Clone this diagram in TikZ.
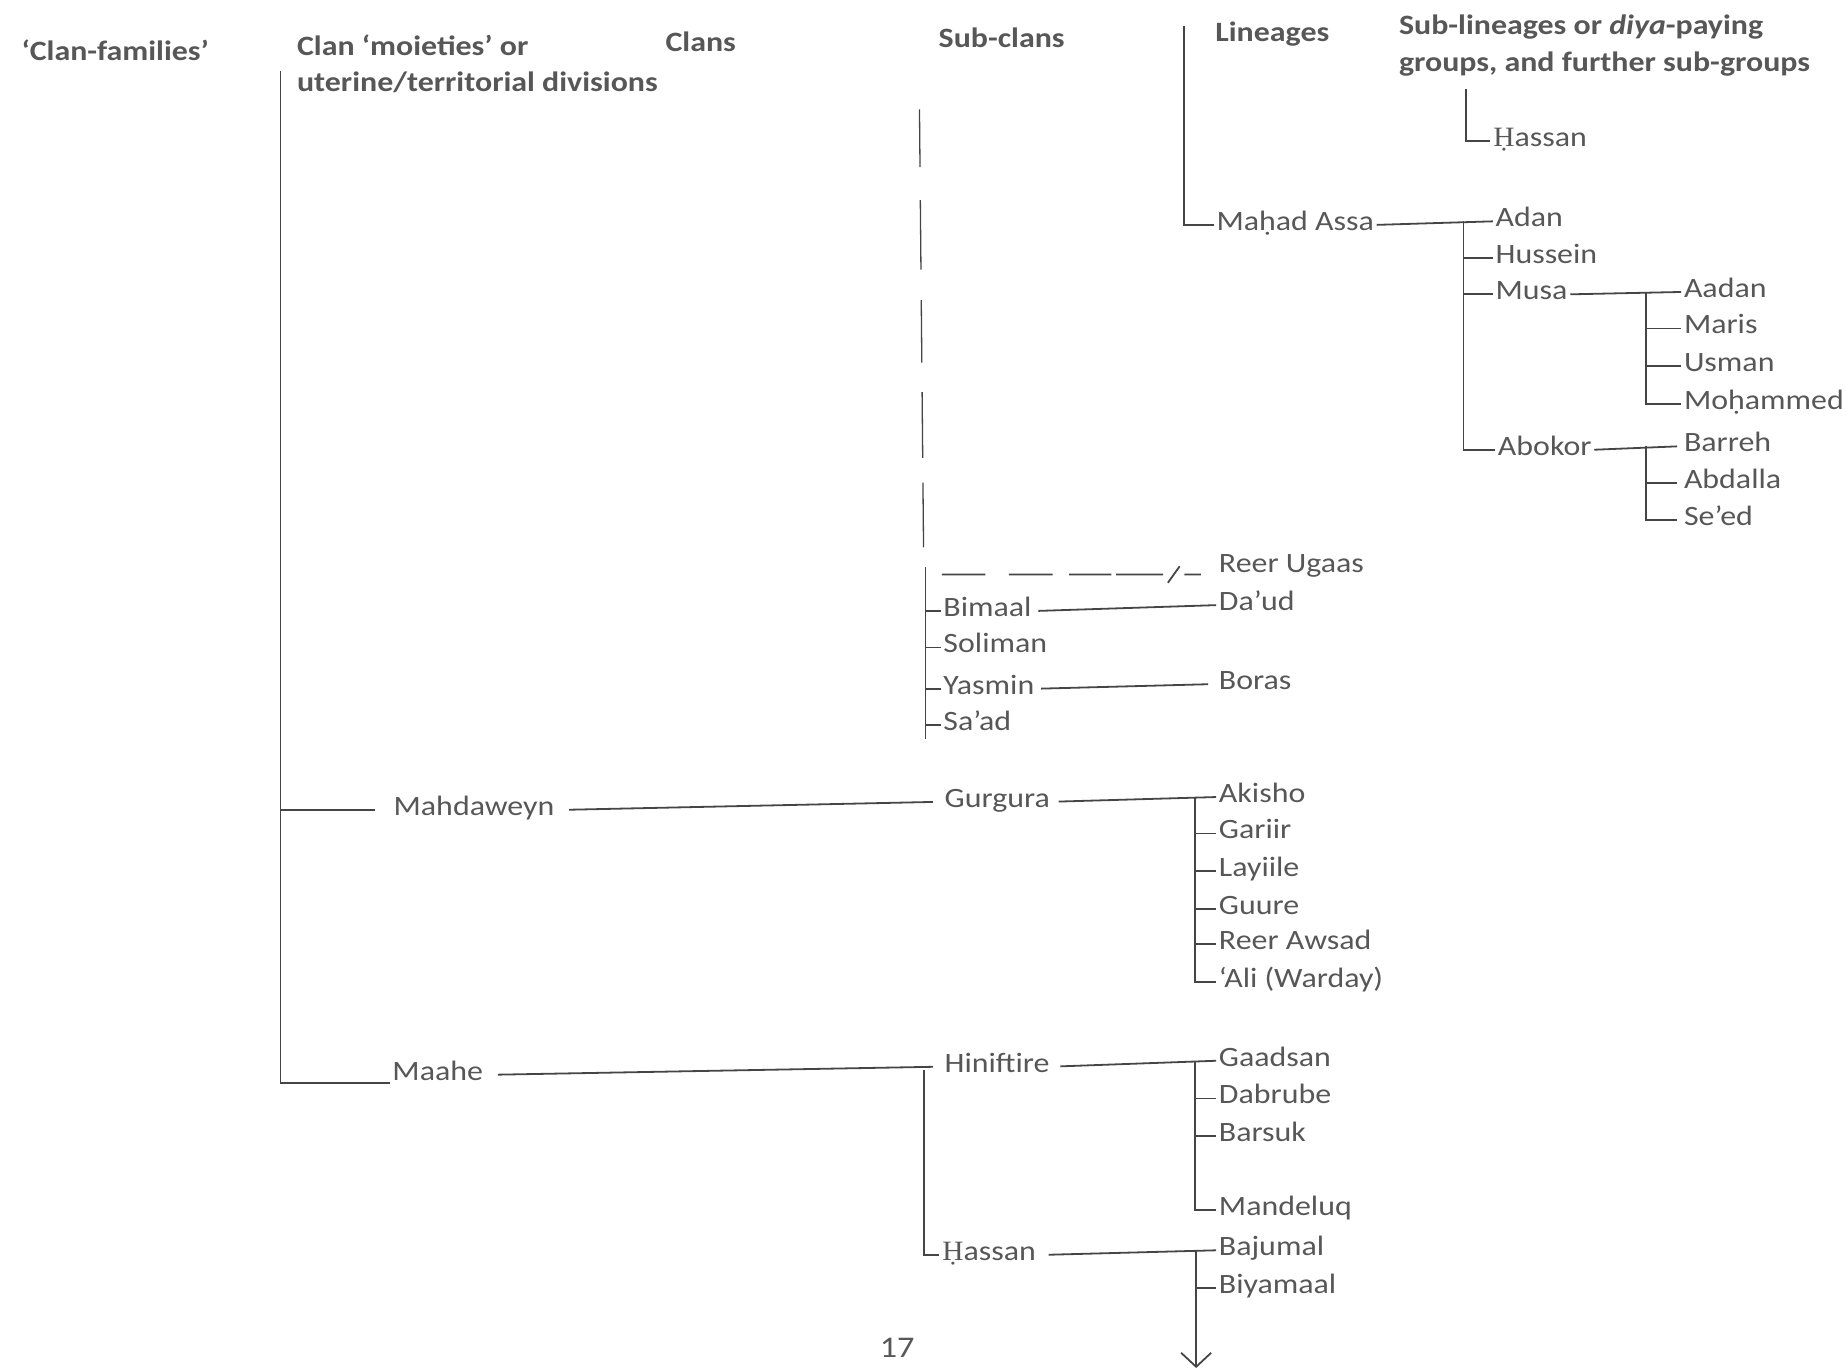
\documentclass[tikz,border=0pt]{standalone}
\usepackage{fontspec}
\setmainfont{Carlito}[FakeStretch=1.14]
\newfontfamily\serifH{Liberation Serif}[FakeStretch=1.05]
\usetikzlibrary{arrows.meta}
\definecolor{txt}{HTML}{575757}
\definecolor{lncol}{HTML}{454545}
\begin{document}
\begin{tikzpicture}[x=0.5887pt,y=-0.5887pt,
  lbl/.style={anchor=west, inner xsep=1.2pt, inner ysep=0pt, text height=0.62em, text depth=0.08em, text=txt, font=\fontsize{14}{17}\selectfont},
  hdr/.style={anchor=base west, inner sep=0pt, text=txt, font=\fontsize{14}{17}\selectfont\bfseries},
  conn/.style={draw=lncol, line width=0.9pt},
  thinline/.style={draw=lncol, line width=0.65pt}]
\useasboundingbox (0,0) rectangle (1568,1164.5);
\clip (0,0) rectangle (1568,1164.5);

% headers
\node[hdr] (hcf) at (18,51) {‘Clan-families’};
\node[hdr] (hmo1) at (252,47) {Clan ‘moieties’ or};
\node[hdr] (hmo2) at (252,78) {uterine/territorial divisions};
\node[hdr] (hcl) at (565,44) {Clans};
\node[hdr] (hsc) at (797,40) {Sub-clans};
\node[hdr] (hli) at (1032,35) {Lineages};
\node[hdr] (hsl1) at (1188,29) {Sub-lineages or \textit{diya}-paying};
\node[hdr] (hsl2) at (1188,61) {groups, and further sub-groups};

% top Hassan
\node[lbl] (hasA) at (1266,120) {{\serifH Ḥ}assan};
\coordinate (tA) at (1245,76);
\draw[conn] (tA) |- (hasA.west);

% lineages trunk
\node[lbl] (mahad) at (1031,191) {Maḥad Assa};
\coordinate (tL) at (1006,22);
\draw[conn] (tL) |- (mahad.west);

% Adan group
\node[lbl] (adan) at (1268,188) {Adan};
\node[lbl] (huss) at (1268,219) {Hussein};
\node[lbl] (musa) at (1268,250) {Musa};
\node[lbl] (abok) at (1270,382) {Abokor};
\draw[conn] (mahad.east) -- (adan.west);
\coordinate (t1) at (1243,188);
\draw[conn] (t1) |- (abok.west);
\draw[conn] (t1 |- huss.west) -- (huss.west);
\draw[conn] (t1 |- musa.west) -- (musa.west);

% Musa group
\node[lbl] (aadan) at (1428,248) {Aadan};
\node[lbl] (maris) at (1428,279) {Maris};
\node[lbl] (usman) at (1428,311) {Usman};
\node[lbl] (moham) at (1428,343) {Moḥammed};
\draw[conn] (musa.east) -- (aadan.west);
\coordinate (t2) at (1398,248);
\draw[conn] (t2) |- (moham.west);
\draw[conn] (t2 |- maris.west) -- (maris.west);
\draw[conn] (t2 |- usman.west) -- (usman.west);

% Abokor group
\node[lbl] (barreh) at (1428,379) {Barreh};
\node[lbl] (abdal) at (1428,410) {Abdalla};
\node[lbl] (seed) at (1428,442) {Se’ed};
\draw[conn, shorten >=2pt] (abok.east) -- (barreh.west);
\coordinate (t3) at (1398,379);
\draw[conn, shorten >=2pt] (t3) |- (seed.west);
\draw[conn, shorten >=2pt] (t3 |- abdal.west) -- (abdal.west);

% sub-clans broken line
\foreach \a/\b in {93/142,170/229,255/308,333/389,410/465}
  \draw[thinline] ({781+(\a-93)*0.0093},\a) -- ({781+(\b-93)*0.0093},\b);

% Reer Ugaas
\node[lbl] (reer) at (1033,482) {Reer Ugaas};
\draw[conn] (800,488) -- (837,488) (857,488) -- (894,488) (908,488) -- (944,488)
  (948,488) -- (988,488) (992,495) -- (1002,481) (1006,488) -- (1020,488);

% Bimaal group
\node[lbl] (bim) at (799,519) {Bimaal};
\node[lbl] (daud) at (1033,514) {Da’ud};
\node[lbl] (sol) at (799,550) {Soliman};
\node[lbl] (yas) at (799,585) {Yasmin};
\node[lbl] (boras) at (1033,581) {Boras};
\node[lbl] (saad) at (799,616) {Sa’ad};
\coordinate (t4top) at (786,482);
\coordinate (t4bot) at (786,628);
\draw[thinline] (t4top) -- (t4bot);
\foreach \n in {bim,sol,yas,saad}
  \draw[conn] (t4top |- \n.west) -- (\n.west);
\draw[conn, shorten <=2pt] (bim.east) -- (daud.west);
\draw[conn, shorten <=2pt, shorten >=4pt] (yas.east) -- (boras.west);

% left trunk
\coordinate (top) at (238,60);
\coordinate (bot) at (238,920);
\draw[thinline] (top) -- (bot);

% Mahdaweyn
\node[lbl] (mahd) at (332,688) {Mahdaweyn};
\node[lbl] (gurg) at (800,681) {Gurgura};
\draw[conn, shorten >=8pt] (top |- mahd.west) -- (mahd.west);
\draw[conn, shorten <=6pt, shorten >=4.5pt] (mahd.east) -- (gurg.west);
\node[lbl] (akisho) at (1033,677) {Akisho};
\node[lbl] (gariir) at (1033,708) {Gariir};
\node[lbl] (layiile) at (1033,740) {Layiile};
\node[lbl] (guure) at (1033,772) {Guure};
\node[lbl] (rawsad) at (1033,802) {Reer Awsad};
\node[lbl] (ali) at (1033,834) {‘Ali (Warday)};
\draw[conn, shorten <=3pt] (gurg.east) -- (akisho.west);
\coordinate (t5) at (1015,677);
\draw[conn] (t5) |- (ali.west);
\foreach \n in {gariir,layiile,guure,rawsad}
  \draw[conn] (t5 |- \n.west) -- (\n.west);

% Maahe
\node[lbl] (maahe) at (331,913) {Maahe};
\draw[conn] (bot) -- (bot -| maahe.west);
\node[lbl] (hinif) at (800,906) {Hiniftire};
\draw[conn, shorten <=6pt, shorten >=4.5pt] (maahe.east) -- (hinif.west);
\node[lbl] (hasB) at (798,1066) {{\serifH Ḥ}assan};
\coordinate (t6) at (785,909);
\draw[conn] (t6) |- (hasB.west);
\node[lbl] (gaad) at (1033,901) {Gaadsan};
\node[lbl] (dabr) at (1033,933) {Dabrube};
\node[lbl] (bars) at (1033,965) {Barsuk};
\node[lbl] (mand) at (1033,1028) {Mandeluq};
\draw[conn, shorten <=4pt] (hinif.east) -- (gaad.west);
\coordinate (t7) at (1015,902);
\draw[conn] (t7) |- (mand.west);
\foreach \n in {dabr,bars}
  \draw[conn] (t7 |- \n.west) -- (\n.west);

% Hassan (lower) group
\node[lbl] (baj) at (1033,1062) {Bajumal};
\node[lbl] (biy) at (1033,1094) {Biyamaal};
\draw[conn, shorten <=5pt] (hasB.east) -- (baj.west);
\coordinate (t8) at (1016,1063);
\coordinate (arr) at (1016,1162);
\draw[conn, -{Straight Barb[length=7pt,width=15pt]}] (t8) -- (arr);
\draw[conn] (t8 |- biy.west) -- (biy.west);

% page number
\node[anchor=base west, inner sep=0pt, text=txt, font=\fontsize{15}{15}\selectfont] (pg) at (747,1153) {17};
\end{tikzpicture}
\end{document}
